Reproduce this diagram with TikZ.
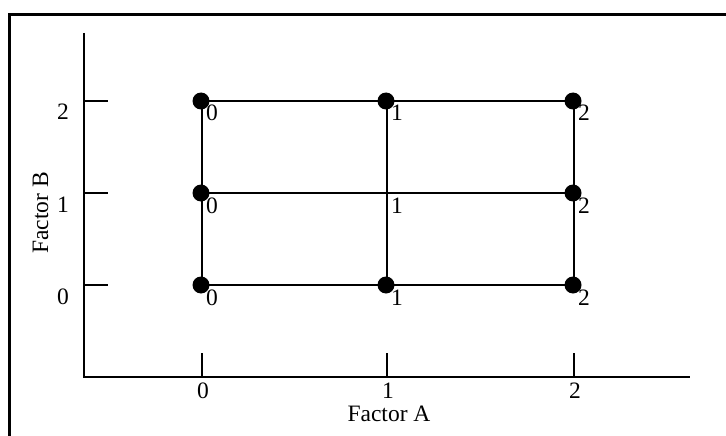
\documentclass[tikz,border=0pt]{standalone}
\usepackage{fontspec}
\setmainfont{Liberation Serif}
\begin{document}
\begin{tikzpicture}[x=1pt,y=-1pt,
  dotnode/.style={circle,fill=black,inner sep=0pt,minimum size=17pt},
  axisline/.style={line width=2pt},
  gridline/.style={line width=1.8pt},
  lbl/.style={inner sep=0pt,anchor=base,font=\fontsize{23.5}{27}\selectfont},
  ptlbl/.style={inner sep=0pt,anchor=base,font=\fontsize{23.5}{27}\selectfont}]
\useasboundingbox (0,0) rectangle (726,436);
\fill[white] (0,0) rectangle (726,436);
% frame
\draw[line width=3pt] (9.5,445) -- (9.5,14.5) -- (740,14.5);
% axes
\coordinate (o) at (84,377);
\coordinate (ytop) at (84,33);
\coordinate (xend) at (690,377);
\draw[axisline] (ytop) -- (o) -- (xend);
% y ticks
\foreach \v/\yy in {0/285,1/193,2/101}{
  \coordinate (yt\v) at (84,\yy);
  \coordinate (yte\v) at (108,\yy);
  \draw[axisline] (yt\v) -- (yte\v);
  \node[lbl] (yl\v) at (63,\yy+19) {\v};
}
% x ticks
\foreach \v/\xx in {0/202,1/387,2/574}{
  \coordinate (xt\v) at (\xx,377);
  \coordinate (xte\v) at (\xx,353);
  \draw[axisline] (xt\v) -- (xte\v);
  \node[lbl] (xl\v) at (\xx+1,398) {\v};
}
\node[lbl] (fa) at (389,421) {Factor A};
\node[lbl,rotate=90] (fb) at (48,213) {Factor B};
% grid points
\foreach \i/\xx in {0/202,1/387,2/574}{
  \foreach \j/\yy in {0/285,1/193,2/101}{
    \coordinate (p\i\j) at (\xx,\yy);
  }
}
% grid lines
\draw[gridline] (p00) -- (p10) -- (p20);
\draw[gridline] (p01) -- (p11) -- (p21);
\draw[gridline] (p02) -- (p12) -- (p22);
\draw[gridline] (p00) -- (p01) -- (p02);
\draw[gridline] (p10) -- (p11) -- (p12);
\draw[gridline] (p20) -- (p21) -- (p22);
% dots (no dot at centre)
\foreach \n in {00,10,20,01,21,02,12,22}{
  \node[dotnode] (d\n) at ([xshift=-1pt]p\n) {};
}
% point labels
\foreach \i in {0,1,2}{
  \foreach \j in {0,1,2}{
    \node[ptlbl] (l\i\j) at ([xshift=10pt,yshift=-20pt]p\i\j) {\i};
  }
}
\end{tikzpicture}
\end{document}
